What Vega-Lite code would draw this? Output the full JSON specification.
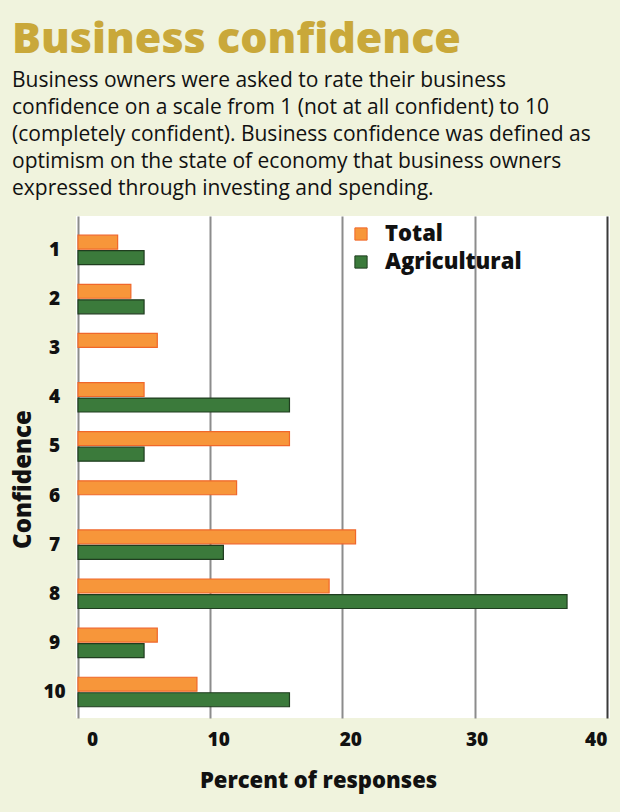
{
  "$schema": "https://vega.github.io/schema/vega-lite/v6.json",
  "width": 534,
  "height": 502,
  "autosize": {"type": "none"},
  "padding": {"left": 76, "top": 216, "right": 10, "bottom": 94},
  "background": "#F0F3DD",
  "title": {
    "text": "Business confidence",
    "subtitle": [
      "Business owners were asked to rate their business",
      "confidence on a scale from 1 (not at all confident) to 10",
      "(completely confident). Business confidence was defined as",
      "optimism on the state of economy that business owners",
      "expressed through investing and spending."
    ],
    "anchor": "start",
    "frame": "group",
    "dx": -64,
    "dy": -3,
    "offset": 14,
    "font": "Open Sans",
    "fontSize": 43,
    "fontWeight": 800,
    "color": "#C9A83A",
    "subtitleFont": "Open Sans",
    "subtitleFontSize": 21,
    "subtitleFontWeight": "normal",
    "subtitleColor": "#111111",
    "subtitleLineHeight": 27,
    "subtitlePadding": 8
  },
  "config": {
    "view": {"fill": "white", "stroke": null},
    "font": "Open Sans"
  },
  "data": {
    "values": [
      {"conf": 1, "series": "Total", "pct": 3},
      {"conf": 1, "series": "Agricultural", "pct": 5},
      {"conf": 2, "series": "Total", "pct": 4},
      {"conf": 2, "series": "Agricultural", "pct": 5},
      {"conf": 3, "series": "Total", "pct": 6},
      {"conf": 4, "series": "Total", "pct": 5},
      {"conf": 4, "series": "Agricultural", "pct": 16},
      {"conf": 5, "series": "Total", "pct": 16},
      {"conf": 5, "series": "Agricultural", "pct": 5},
      {"conf": 6, "series": "Total", "pct": 12},
      {"conf": 7, "series": "Total", "pct": 21},
      {"conf": 7, "series": "Agricultural", "pct": 11},
      {"conf": 8, "series": "Total", "pct": 19},
      {"conf": 8, "series": "Agricultural", "pct": 37},
      {"conf": 9, "series": "Total", "pct": 6},
      {"conf": 9, "series": "Agricultural", "pct": 5},
      {"conf": 10, "series": "Total", "pct": 9},
      {"conf": 10, "series": "Agricultural", "pct": 16}
    ]
  },
  "mark": {"type": "bar", "strokeWidth": 1.2},
  "encoding": {
    "y": {
      "field": "conf",
      "type": "ordinal",
      "scale": {"paddingInner": 0.4, "paddingOuter": 0.31, "align": 0.63},
      "axis": {
        "title": "Confidence",
        "titleFont": "Open Sans",
        "titleFontSize": 24,
        "titleFontWeight": 800,
        "titleColor": "#111111",
        "titleX": -53,
        "titleY": 263,
        "titleAngle": -90,
        "titleAlign": "center",
        "titleBaseline": "middle",
        "labelAlign": "center",
        "labelBaseline": "middle",
        "labelPadding": 22,
        "labelFont": "Open Sans",
        "labelFontSize": 19,
        "labelFontWeight": 800,
        "labelColor": "#111111",
        "ticks": false,
        "tickSize": 0,
        "domain": false,
        "grid": false
      }
    },
    "yOffset": {
      "field": "series",
      "type": "nominal",
      "sort": ["Total", "Agricultural"],
      "scale": {"paddingInner": 0.1}
    },
    "x": {
      "field": "pct",
      "type": "quantitative",
      "scale": {"domain": [-0.15, 40.25], "nice": false, "zero": false},
      "axis": {
        "values": [0, 10, 20, 30, 40],
        "title": "Percent of responses",
        "titleFont": "Open Sans",
        "titleFontSize": 22,
        "titleFontWeight": 800,
        "titleColor": "#111111",
        "titleX": 242,
        "titleY": 69,
        "titleAlign": "center",
        "titleBaseline": "alphabetic",
        "labelFont": "Open Sans",
        "labelFontSize": 19,
        "labelFontWeight": 800,
        "labelColor": "#111111",
        "labelPadding": 12,
        "labelFlush": false,
        "labelOffset": {
          "condition": [
            {"test": "datum.value === 0", "value": 14},
            {"test": "datum.value === 40", "value": -11},
            {"test": "datum.value === 30", "value": 2}
          ],
          "value": 8
        },
        "ticks": false,
        "tickSize": 0,
        "domain": false,
        "grid": true,
        "gridWidth": 2,
        "gridColor": {"condition": {"test": "datum.value === 40", "value": "#3a3a3a"}, "value": "#8c8c8c"}
      }
    },
    "x2": {"datum": 0},
    "fill": {
      "field": "series",
      "type": "nominal",
      "sort": ["Total", "Agricultural"],
      "scale": {"domain": ["Total", "Agricultural"], "range": ["#F7963A", "#3B7A3B"]},
      "legend": {
        "title": null,
        "orient": "none",
        "legendX": 274,
        "legendY": 7,
        "padding": 0,
        "symbolType": "square",
        "symbolSize": 150,
        "symbolStrokeWidth": 1,
        "labelFont": "Open Sans",
        "labelFontSize": 22,
        "labelFontWeight": 800,
        "labelColor": "#111111",
        "labelOffset": 13,
        "rowPadding": 6
      }
    },
    "stroke": {
      "field": "series",
      "type": "nominal",
      "sort": ["Total", "Agricultural"],
      "scale": {"domain": ["Total", "Agricultural"], "range": ["#F0672A", "#1F3D1F"]},
      "legend": null
    }
  }
}
